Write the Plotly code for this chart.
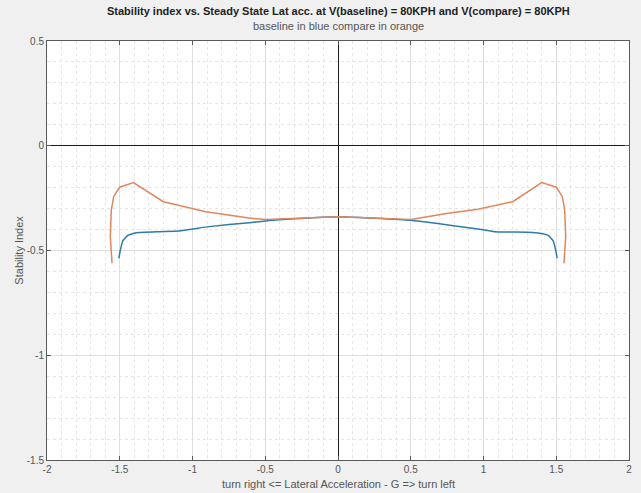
import plotly.graph_objects as go

# baseline (blue)
base_x = [-1.506, -1.496, -1.478, -1.444, -1.387, -1.230, -1.094, -0.886, -0.610, -0.429, 0.0,
          0.500, 0.756, 0.961, 1.075, 1.303, 1.387, 1.444, 1.478, 1.496, 1.506]
base_y = [-0.537, -0.498, -0.453, -0.428, -0.415, -0.410, -0.407, -0.386, -0.367, -0.354, -0.339,
          -0.356, -0.378, -0.397, -0.410, -0.413, -0.418, -0.428, -0.453, -0.498, -0.537]

# compare (orange)
comp_x = [-1.553, -1.565, -1.558, -1.542, -1.501, -1.406, -1.200, -0.908, -0.612, -0.500, 0.0,
          0.500, 0.756, 0.961, 1.200, 1.400, 1.501, 1.542, 1.558, 1.565, 1.553]
comp_y = [-0.561, -0.434, -0.307, -0.243, -0.198, -0.176, -0.267, -0.315, -0.345, -0.352, -0.339,
          -0.352, -0.322, -0.303, -0.267, -0.176, -0.198, -0.243, -0.307, -0.434, -0.561]

x_ticks = [-2, -1.5, -1, -0.5, 0, 0.5, 1, 1.5, 2]
y_ticks = [-1.5, -1, -0.5, 0, 0.5]

title = "Stability index vs. Steady State Lat acc. at V(baseline) = 80KPH and V(compare) = 80KPH"
subtitle = "baseline in blue compare in orange"
xlabel = "turn right <= Lateral Acceleration - G => turn left"
ylabel = "Stability Index"

FONT = "Liberation Sans, Arial, sans-serif"

fig = go.Figure()
fig.add_trace(go.Scatter(x=base_x, y=base_y, mode="lines",
                         line=dict(color="#2c7bab", width=1.5, shape="spline", smoothing=0.4),
                         showlegend=False))
fig.add_trace(go.Scatter(x=comp_x, y=comp_y, mode="lines",
                         line=dict(color="#e0875d", width=1.5), showlegend=False))

axis_common = dict(
    showline=True, linecolor="#5a5a5a", linewidth=1, mirror="ticks",
    ticks="inside", ticklen=4, tickcolor="#5a5a5a",
    showgrid=True, gridcolor="#dedede", gridwidth=1,
    zeroline=True, zerolinecolor="#1a1a1a", zerolinewidth=1.3,
    tickfont=dict(family=FONT, size=10, color="#555555"),
)

fig.update_xaxes(range=[-2, 2], tickvals=x_ticks, ticktext=[f"{v:g}" for v in x_ticks],
                 minor=dict(dtick=0.1, showgrid=True, gridcolor="#e6e6e6", griddash="dot",
                            ticks=""),
                 **axis_common)
fig.update_yaxes(range=[-1.5, 0.5], tickvals=y_ticks, ticktext=[f"{v:g}" for v in y_ticks],
                 minor=dict(dtick=0.1, showgrid=True, gridcolor="#e6e6e6", griddash="dot",
                            ticks=""),
                 **axis_common)

fig.update_layout(
    width=641, height=493,
    margin=dict(l=47, r=9, t=41, b=33),
    paper_bgcolor="#f0f0f0", plot_bgcolor="white",
    font=dict(family=FONT, size=11, color="#555555"),
    annotations=[
        dict(text="<b>" + title + "</b>", xref="paper", yref="paper", x=0.5, y=1.0716,
             xanchor="center", yanchor="middle", showarrow=False,
             font=dict(family=FONT, size=11, color="#222222")),
        dict(text=subtitle, xref="paper", yref="paper", x=0.5, y=1.0358,
             xanchor="center", yanchor="middle", showarrow=False,
             font=dict(family=FONT, size=11, color="#555555")),
        dict(text=xlabel, xref="paper", yref="paper", x=0.5, y=-0.0573,
             xanchor="center", yanchor="middle", showarrow=False,
             font=dict(family=FONT, size=11, color="#555555")),
        dict(text=ylabel, xref="paper", yref="paper", x=-0.0496, y=0.5,
             xanchor="center", yanchor="middle", textangle=-90, showarrow=False,
             font=dict(family=FONT, size=11, color="#555555")),
    ],
)

fig.write_html("out.html")
